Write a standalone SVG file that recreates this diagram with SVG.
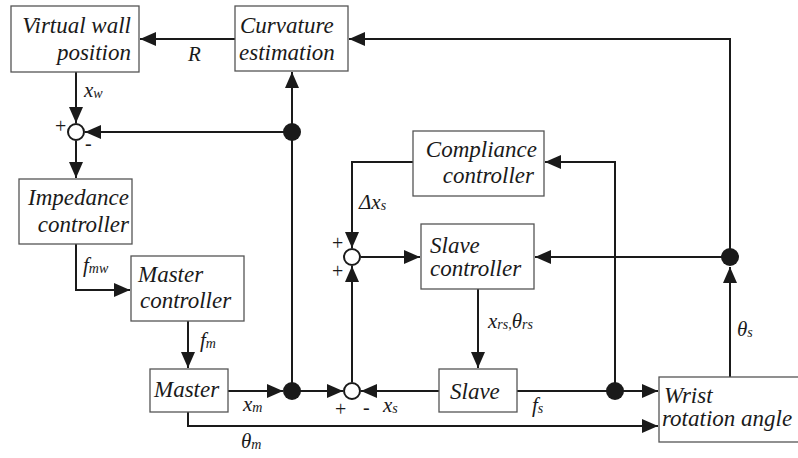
<svg xmlns="http://www.w3.org/2000/svg" width="798" height="458" viewBox="0 0 798 458" font-family="Liberation Serif, serif">
<style>
  .box { fill: #ffffff; stroke: #555555; stroke-width: 1.3; }
  .t { font-style: italic; font-size: 23px; fill: #1a1a1a; }
  .lb { font-style: italic; font-size: 21px; fill: #1a1a1a; }
  .sub { font-size: 14px; }
  .sg { font-size: 20px; fill: #1a1a1a; }
  .ln { fill: none; stroke: #1a1a1a; stroke-width: 2; }
  .dot { fill: #1a1a1a; }
  .sum { fill: #ffffff; stroke: #1a1a1a; stroke-width: 2; }
</style>
<defs>
  <marker id="ar" markerUnits="userSpaceOnUse" markerWidth="17" markerHeight="15" refX="16" refY="7" orient="auto">
    <path d="M0,0 L16,7 L0,14 z" fill="#1a1a1a"/>
  </marker>
</defs>
<rect width="798" height="458" fill="#ffffff"/>

<g id="connectors">
  <path class="ln" d="M235,39 H140" marker-end="url(#ar)"/>
  <path class="ln" d="M730,257 V39 H349" marker-end="url(#ar)"/>
  <path class="ln" d="M292,391 V72" marker-end="url(#ar)"/>
  <path class="ln" d="M292,132 H85" marker-end="url(#ar)"/>
  <path class="ln" d="M76,72 V123" marker-end="url(#ar)"/>
  <path class="ln" d="M76,141 V178" marker-end="url(#ar)"/>
  <path class="ln" d="M76,244 V290 H130" marker-end="url(#ar)"/>
  <path class="ln" d="M188,321 V368" marker-end="url(#ar)"/>
  <path class="ln" d="M228,391 H283" marker-end="url(#ar)"/>
  <path class="ln" d="M292,391 H343" marker-end="url(#ar)"/>
  <path class="ln" d="M439,391 H361" marker-end="url(#ar)"/>
  <path class="ln" d="M352,382 V266" marker-end="url(#ar)"/>
  <path class="ln" d="M413,162 H352 V248" marker-end="url(#ar)"/>
  <path class="ln" d="M361,257 H420" marker-end="url(#ar)"/>
  <path class="ln" d="M730,257 H535" marker-end="url(#ar)"/>
  <path class="ln" d="M478,289 V368" marker-end="url(#ar)"/>
  <path class="ln" d="M517,391 H658" marker-end="url(#ar)"/>
  <path class="ln" d="M615,391 V162 H545" marker-end="url(#ar)"/>
  <path class="ln" d="M730,377 V267" marker-end="url(#ar)"/>
  <path class="ln" d="M188,412 V426 H658" marker-end="url(#ar)"/>
  <circle class="dot" cx="292" cy="132" r="9"/>
  <circle class="dot" cx="292" cy="391" r="9"/>
  <circle class="dot" cx="730" cy="257" r="9"/>
  <circle class="dot" cx="615" cy="391" r="9"/>
</g>

<g id="virtual-wall">
  <rect class="box" x="11" y="6" width="128" height="66"/>
  <text class="t" x="131" y="33" text-anchor="end">Virtual wall</text>
  <text class="t" x="131" y="60" text-anchor="end">position</text>
</g>
<g id="curvature">
  <rect class="box" x="235" y="6" width="113" height="65"/>
  <text class="t" x="240" y="33">Curvature</text>
  <text class="t" x="239" y="60">estimation</text>
</g>
<g id="sum1">
  <circle class="sum" cx="76" cy="132" r="8"/>
  <text class="sg" x="55" y="133">+</text>
  <text class="sg" x="85" y="150">-</text>
</g>
<g id="impedance">
  <rect class="box" x="19" y="179" width="113" height="65"/>
  <text class="t" x="129" y="205" text-anchor="end">Impedance</text>
  <text class="t" x="129" y="232" text-anchor="end">controller</text>
</g>
<g id="master-controller">
  <rect class="box" x="131" y="256" width="113" height="65"/>
  <text class="t" x="138" y="282">Master</text>
  <text class="t" x="140" y="308">controller</text>
</g>
<g id="master">
  <rect class="box" x="150" y="369" width="78" height="43"/>
  <text class="t" x="154" y="397">Master</text>
</g>
<g id="compliance">
  <rect class="box" x="413" y="131" width="131" height="65"/>
  <text class="t" x="537" y="157" text-anchor="end">Compliance</text>
  <text class="t" x="534" y="183" text-anchor="end">controller</text>
</g>
<g id="sum2">
  <circle class="sum" cx="352" cy="257" r="8"/>
  <text class="sg" x="332" y="250">+</text>
  <text class="sg" x="332" y="278">+</text>
</g>
<g id="slave-controller">
  <rect class="box" x="421" y="224" width="113" height="65"/>
  <text class="t" x="430" y="253">Slave</text>
  <text class="t" x="430" y="276">controller</text>
</g>
<g id="sum3">
  <circle class="sum" cx="352" cy="391" r="8"/>
  <text class="sg" x="335" y="416">+</text>
  <text class="sg" x="363" y="414">-</text>
</g>
<g id="slave">
  <rect class="box" x="439" y="369" width="78" height="43"/>
  <text class="t" x="450" y="399">Slave</text>
</g>
<g id="wrist">
  <rect class="box" x="659" y="377" width="145" height="65"/>
  <text class="t" x="664" y="403">Wrist</text>
  <text class="t" x="662" y="426">rotation angle</text>
</g>

<g id="labels">
  <text class="lb" x="188" y="61">R</text>
  <text class="lb" x="84" y="97">x<tspan class="sub" dy="1">w</tspan></text>
  <text class="lb" x="83" y="272">f<tspan class="sub" dy="1">mw</tspan></text>
  <text class="lb" x="200" y="347">f<tspan class="sub" dy="1">m</tspan></text>
  <text class="lb" x="243" y="411">x<tspan class="sub" dy="1">m</tspan></text>
  <text class="lb" x="241" y="448">θ<tspan class="sub" dy="1">m</tspan></text>
  <text class="lb" x="383" y="412">x<tspan class="sub" dy="1">s</tspan></text>
  <text class="lb" x="532" y="412">f<tspan class="sub" dy="1">s</tspan></text>
  <text class="lb" x="488" y="328">x<tspan class="sub" dy="1">rs,</tspan><tspan dy="-1">θ</tspan><tspan class="sub" dy="1">rs</tspan></text>
  <text class="lb" x="737" y="336">θ<tspan class="sub" dy="1">s</tspan></text>
  <text class="lb" x="359" y="209">Δx<tspan class="sub" dy="1">s</tspan></text>
</g>
</svg>
